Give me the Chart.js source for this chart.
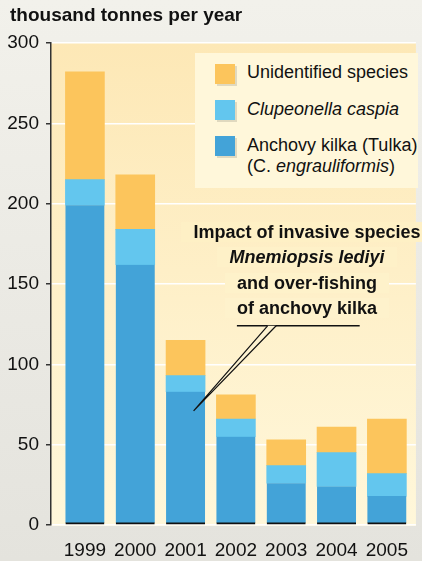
<!DOCTYPE html>
<html>
<head>
<meta charset="utf-8">
<script src="https://cdn.jsdelivr.net/npm/chart.js@4.4.1/dist/chart.umd.min.js"></script>
<style>
  html, body { margin: 0; padding: 0; }
  body {
    width: 422px; height: 561px; overflow: hidden; position: relative;
    background: linear-gradient(#f2f1eb, #e4e3dd);
    font-family: "Liberation Sans", Arial, sans-serif;
    color: #111;
  }
  #wrap { position: absolute; left: 0; top: 0; width: 422px; height: 561px; }
  .title {
    position: absolute; left: 10px; top: 3px;
    font-size: 19px; font-weight: bold; line-height: 24px; white-space: nowrap;
  }
  .legend {
    position: absolute; left: 195px; top: 53px; width: 223px; height: 135px;
    background: #fff7da;
  }
  .legend .item { position: absolute; left: 52px; font-size: 18px; line-height: 21px; white-space: nowrap; }
  .legend .sw {
    position: absolute; left: 20px; width: 20px; height: 20px;
    box-shadow: 2px 2px 0 rgba(0,0,0,0.12);
  }
  .note {
    position: absolute; left: 167px; top: 220px; width: 280px;
    text-align: center; font-size: 18px; font-weight: bold; line-height: 25.3px;
  }
  .note span { padding: 0 12px; }
</style>
</head>
<body>
<div id="wrap"><canvas id="chart" width="422" height="561"></canvas></div>
<div class="title">thousand tonnes per year</div>
<div class="legend">
  <div class="sw" style="top:11px; background:#fcc55c"></div>
  <div class="item" style="top:9px">Unidentified species</div>
  <div class="sw" style="top:47px; background:#63c6ee"></div>
  <div class="item" style="top:46px"><i>Clupeonella caspia</i></div>
  <div class="sw" style="top:83px; background:#43a3d8"></div>
  <div class="item" style="top:82px">Anchovy kilka (Tulka)<br>(C. <i>engrauliformis</i>)</div>
</div>
<div class="note">
  <span style="background:#fef0c5">Impact of invasive species</span><br>
  <span style="background:#fef1c8"><i>Mnemiopsis lediyi</i></span><br>
  <span style="background:#fef2ca">and over-fishing</span><br>
  <span style="background:#fef2cc">of anchovy kilka</span>
</div>
<script>
// --- DATA ---
const years = ['1999', '2000', '2001', '2002', '2003', '2004', '2005'];
const anchovyKilka = [199, 162, 83, 55, 26, 24, 18];
const clupeonella = [16, 22, 10, 11, 11, 21, 14];
const unidentified = [67, 34, 22, 15, 16, 16, 34];
const yTicks = [0, 50, 100, 150, 200, 250, 300];

const toPoints = arr => arr.map((v, i) => ({ x: i, y: v }));

// plot background gradient, drawn behind everything
const plotBackground = {
  id: 'plotBackground',
  beforeDraw(chart) {
    const { ctx, chartArea: a } = chart;
    const g = ctx.createLinearGradient(0, a.top, 0, a.bottom);
    g.addColorStop(0, '#fde8b6');
    g.addColorStop(1, '#fff7da');
    ctx.save();
    ctx.fillStyle = g;
    ctx.fillRect(a.left, a.top, a.right - a.left, a.bottom - a.top + 1);
    ctx.restore();
  }
};

// callout: underline + narrow wedge pointing at the 2001 bar
const calloutLine = {
  id: 'calloutLine',
  afterDatasetsDraw(chart) {
    const { ctx } = chart;
    const xs = chart.scales.x, ys = chart.scales.y;
    const y0 = ys.getPixelForValue(124);
    const wl = xs.getPixelForValue(3.63), wr = xs.getPixelForValue(3.8);
    const x1 = xs.getPixelForValue(2.16), y1 = ys.getPixelForValue(71);
    const uL = xs.getPixelForValue(3.02), uR = xs.getPixelForValue(5.46);
    ctx.save();
    ctx.strokeStyle = '#111';
    ctx.lineWidth = 1.3;
    ctx.beginPath();
    ctx.moveTo(uL, y0);
    ctx.lineTo(uR, y0);
    ctx.stroke();
    ctx.beginPath();
    ctx.moveTo(wl, y0);
    ctx.lineTo(x1, y1);
    ctx.lineTo(wr, y0);
    ctx.closePath();
    ctx.fillStyle = '#fdf2d0';
    ctx.fill();
    ctx.lineWidth = 1.2;
    ctx.beginPath();
    ctx.moveTo(wl, y0);
    ctx.lineTo(x1, y1);
    ctx.lineTo(wr, y0);
    ctx.stroke();
    ctx.restore();
  }
};

const ctx = document.getElementById('chart').getContext('2d');
new Chart(ctx, {
  type: 'bar',
  data: {
    datasets: [
      {
        label: 'Anchovy kilka (Tulka) (C. engrauliformis)',
        data: toPoints(anchovyKilka),
        backgroundColor: '#43a3d8',
        borderColor: '#111',
        borderWidth: { top: 0, left: 0, right: 0, bottom: 2 },
        borderSkipped: false
      },
      { label: 'Clupeonella caspia', data: toPoints(clupeonella), backgroundColor: '#63c6ee', borderWidth: 0 },
      { label: 'Unidentified species', data: toPoints(unidentified), backgroundColor: '#fcc55c', borderWidth: 0 }
    ]
  },
  options: {
    responsive: false,
    animation: false,
    layout: { padding: { top: 43, right: 0, left: 0, bottom: 0 } },
    barThickness: 39,
    plugins: { legend: { display: false }, tooltip: { enabled: false } },
    scales: {
      x: {
        type: 'linear',
        stacked: true,
        offset: false,
        min: -0.674,
        max: 6.577,
        grid: { display: false, drawTicks: false, tickLength: 0 },
        border: { display: false },
        afterBuildTicks: scale => { scale.ticks = years.map((_, i) => ({ value: i })); },
        afterFit: scale => { scale.height = 36; },
        ticks: {
          padding: 14,
          color: '#111',
          font: { family: 'Liberation Sans', size: 19 },
          callback: v => years[v],
          maxRotation: 0,
          autoSkip: false
        }
      },
      y: {
        stacked: true,
        min: 0,
        max: 300,
        afterBuildTicks: scale => { scale.ticks = yTicks.map(v => ({ value: v })); },
        afterFit: scale => { scale.width = 51; },
        grid: { color: '#ffffff', lineWidth: 1.5, tickColor: '#333', tickLength: 5, drawTicks: true },
        border: { display: true, color: '#333', width: 1.5 },
        ticks: {
          padding: 7,
          color: '#111',
          font: { family: 'Liberation Sans', size: 19 }
        }
      }
    }
  },
  plugins: [plotBackground, calloutLine]
});
</script>
</body>
</html>
